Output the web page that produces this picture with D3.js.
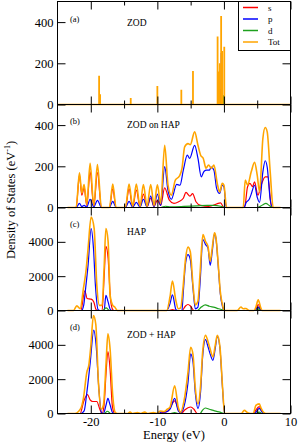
<!DOCTYPE html>
<html>
<head>
<meta charset="utf-8">
<script src="https://cdn.jsdelivr.net/npm/d3@7"></script>
<style>
  body { margin: 0; background: #fff; }
  text { font-family: 'Liberation Serif', 'Times New Roman', serif; fill: #000; }
</style>
</head>
<body>
<div id="main"></div>
<script>
// energy ticks (eV)
var energyMajorTicks = [-20, -10, 0, 10];
var energyMinorTicks = [-15, -5, 5];

var seriesNames = ['s', 'p', 'd', 'Tot'];
var panelLetters = ['(a)', '(b)', '(c)', '(d)'];
var panelTitles = ['ZOD', 'ZOD on HAP', 'HAP', 'ZOD + HAP'];
var panelMax = [500, 500, 6000, 6000];
var panelTicks = [[0, 200, 400], [0, 200, 400], [0, 2000, 4000], [0, 2000, 4000]];

// (a) ZOD : discrete levels, [energy, height]
var zodS = [[-0.45, 75], [-0.3, 50]];
var zodP = [[-0.65, 120], [-0.4, 250], [-0.1, 40]];
var zodD = [[-0.6, 25], [-0.05, 45]];
var zodTot = [[-18.75, 140], [-18.6, 50], [-14.0, 32], [-10.0, 90], [-6.4, 71], [-4.65, 163],
  [-0.95, 330], [-0.8, 160], [-0.62, 200], [-0.42, 430], [-0.27, 260], [0.05, 280]];

// (b) ZOD on HAP
var zohS = [[-23.5, 0], [-22.2, 0], [-21.7, 157], [-21.35, 60], [-21.0, 96], [-20.6, 10], [-20.1, 173], [-19.55, 5],
  [-19.0, 170], [-18.4, 0], [-17.2, 0], [-16.7, 90], [-16.2, 0], [-14.8, 0], [-14.25, 90], [-13.7, 3], [-13.16, 85],
  [-12.6, 3], [-12.1, 65], [-11.55, 3], [-11.0, 45], [-10.5, 5], [-10.0, 35], [-9.5, 10], [-8.9, 95], [-8.2, 36],
  [-7.5, 20], [-6.8, 28], [-6.1, 45], [-5.7, 73], [-5.1, 55], [-4.7, 67], [-4.2, 28], [-3.5, 10], [-2.3, 5],
  [-0.5, 22], [0.0, 0], [3.1, 0], [3.55, 101], [3.9, 117], [4.3, 101], [4.6, 125], [5.1, 60], [5.6, 109],
  [6.2, 149], [6.6, 149], [7.1, 10], [7.4, 0], [8.5, 0]];
var zohP = [[-23.5, 0], [-22.2, 0], [-21.7, 20], [-21.35, 5], [-21.0, 10], [-20.6, 3], [-20.1, 40], [-19.55, 3],
  [-19.0, 35], [-18.4, 0], [-17.2, 0], [-16.7, 30], [-16.2, 0], [-14.8, 0], [-14.25, 30], [-13.7, 2], [-13.16, 25],
  [-12.6, 2], [-12.1, 40], [-11.55, 3], [-11.0, 55], [-10.5, 5], [-10.0, 65], [-9.5, 10], [-8.9, 198], [-8.4, 82],
  [-7.9, 40], [-7.1, 112], [-6.6, 108], [-6.1, 181], [-5.5, 254], [-5.15, 238], [-4.4, 302], [-3.9, 238],
  [-3.4, 149], [-3.0, 175], [-2.6, 181], [-2.2, 181], [-1.9, 196], [-1.5, 181], [-1.1, 93], [-0.65, 68],
  [-0.25, 108], [0.0, 100], [0.35, 0], [3.0, 0], [3.35, 25], [3.8, 40], [4.1, 65], [4.6, 108], [5.0, 50],
  [5.35, 25], [5.85, 173], [6.2, 227], [6.5, 196], [6.95, 40], [7.3, 0], [8.5, 0]];
var zohD = [[-23.5, 0], [-9.5, 0], [-8.8, 6], [-8.0, 3], [-6.0, 5], [-4.0, 8], [-2.5, 10], [-1.5, 10], [-0.5, 6],
  [0.2, 0], [5.0, 0], [5.8, 12], [6.3, 20], [6.8, 10], [7.3, 0], [8.5, 0]];
var zohTot = [[-23.5, 0], [-22.2, 0], [-21.7, 168], [-21.35, 70], [-21.0, 112], [-20.6, 15], [-20.1, 214], [-19.55, 10],
  [-19.0, 209], [-18.4, 0], [-17.2, 0], [-16.7, 114], [-16.2, 0], [-14.8, 0], [-14.25, 114], [-13.7, 5],
  [-13.16, 114], [-12.6, 5], [-12.1, 112], [-11.55, 5], [-11.0, 112], [-10.5, 10], [-10.0, 110], [-9.5, 20],
  [-8.9, 302], [-8.4, 109], [-7.9, 60], [-7.3, 133], [-6.7, 152], [-6.3, 190], [-5.9, 294], [-5.4, 310],
  [-5.05, 305], [-4.4, 367], [-3.9, 302], [-3.5, 254], [-3.1, 238], [-2.7, 191], [-2.3, 206], [-1.9, 191],
  [-1.5, 206], [-1.0, 117], [-0.65, 75], [-0.25, 117], [0.0, 109], [0.4, 0], [2.9, 0], [3.2, 133], [3.55, 109],
  [4.1, 173], [4.6, 219], [5.0, 157], [5.35, 77], [5.85, 335], [6.2, 388], [6.5, 367], [6.95, 173], [7.4, 0], [8.5, 0]];

// (c) HAP
var hapS = [[-23.5, 0], [-21.5, 0], [-20.9, 1150], [-20.55, 700], [-19.95, 660], [-19.55, 500], [-19.2, 50], [-18.9, 0],
  [-18.3, 0], [-17.98, 2080], [-17.73, 3740], [-17.4, 3060], [-17.05, 700], [-16.7, 50], [-16.5, 0], [-8.3, 0],
  [-7.73, 50], [-7.2, 0], [-6.3, 0], [-5.8, 250], [-5.4, 350], [-5.0, 250], [-4.5, 0], [4.7, 0], [5.15, 350],
  [5.6, 0], [8.5, 0]];
var hapP = [[-23.5, 0], [-21.4, 0], [-21.07, 300], [-20.8, 1200], [-20.4, 2670], [-19.95, 4770], [-19.6, 3640],
  [-19.3, 1440], [-18.9, 50], [-18.6, 0], [-18.0, 0], [-17.73, 880], [-17.4, 500], [-17.05, 50], [-16.8, 0],
  [-8.6, 0], [-8.1, 400], [-7.73, 910], [-7.2, 50], [-6.9, 0], [-6.3, 0], [-6.15, 800], [-5.75, 2780],
  [-5.4, 3250], [-5.05, 2960], [-4.65, 1300], [-4.3, 100], [-3.9, 200], [-3.6, 1500], [-3.16, 4130],
  [-2.76, 3840], [-2.4, 3640], [-2.06, 2630], [-1.76, 3420], [-1.42, 4460], [-1.2, 4200], [-0.85, 2570],
  [-0.55, 1000], [-0.2, 200], [0.05, 0], [4.7, 0], [5.15, 200], [5.6, 0], [8.5, 0]];
var hapD = [[-23.5, 0], [-18.2, 0], [-17.7, 150], [-17.2, 0], [-4.0, 0], [-3.4, 200], [-2.8, 330], [-2.2, 250],
  [-1.4, 180], [-0.8, 100], [-0.2, 40], [0.2, 0], [4.8, 0], [5.15, 100], [5.5, 0], [8.5, 0]];
var hapTot = [[-23.5, 0], [-22.6, 0], [-22.1, 270], [-21.6, 100], [-21.1, 1300], [-20.7, 2375], [-20.4, 3640],
  [-19.95, 5440], [-19.5, 4800], [-19.1, 1500], [-18.7, 300], [-18.3, 300], [-18.0, 2475], [-17.73, 4770],
  [-17.4, 4040], [-17.1, 910], [-16.7, 300], [-16.4, 200], [-16.0, 0], [-8.6, 0], [-8.1, 800], [-7.73, 1720],
  [-7.24, 620], [-6.85, 100], [-6.5, 150], [-6.15, 1300], [-5.75, 3060], [-5.4, 3690], [-5.05, 3420],
  [-4.65, 1500], [-4.3, 330], [-3.9, 560], [-3.6, 2080], [-3.16, 4420], [-2.76, 4020], [-2.4, 3740],
  [-2.06, 2870], [-1.76, 3630], [-1.42, 4520], [-1.2, 4250], [-0.85, 2670], [-0.55, 1110], [-0.2, 300],
  [0.05, 0], [2.0, 0], [2.56, 200], [2.9, 100], [3.3, 120], [3.8, 0], [4.5, 0], [4.8, 200], [5.15, 620],
  [5.5, 200], [5.75, 0], [8.5, 0]];

// (d) ZOD + HAP
var zhS = [[-23.5, 0], [-21.6, 0], [-21.07, 700], [-20.5, 1100], [-20.1, 800], [-19.7, 700], [-19.1, 700], [-18.6, 200],
  [-18.3, 0], [-18.0, 500], [-17.7, 2400], [-17.43, 3600], [-17.1, 2570], [-16.75, 400], [-16.4, 0], [-9.8, 0],
  [-9.2, 60], [-8.4, 150], [-7.4, 740], [-6.8, 200], [-6.4, 0], [-5.9, 200], [-5.0, 380], [-4.5, 250], [-4.0, 0],
  [4.5, 0], [4.8, 200], [5.3, 400], [5.7, 150], [6.0, 0], [8.5, 0]];
var zhP = [[-23.5, 0], [-21.5, 0], [-21.0, 150], [-20.6, 1200], [-20.1, 2900], [-19.55, 4860], [-19.2, 3980],
  [-18.8, 1500], [-18.4, 50], [-18.1, 0], [-17.7, 500], [-17.43, 880], [-17.1, 500], [-16.7, 30], [-16.4, 0],
  [-9.8, 0], [-9.4, 100], [-8.8, 80], [-8.1, 250], [-7.4, 880], [-6.85, 150], [-6.5, 50], [-6.0, 400],
  [-5.4, 1800], [-5.0, 3470], [-4.65, 3000], [-4.3, 1200], [-3.9, 300], [-3.5, 1300], [-3.2, 3300],
  [-2.76, 4300], [-2.4, 3900], [-2.1, 3500], [-1.65, 3100], [-1.3, 3800], [-1.0, 4500], [-0.6, 3800],
  [-0.2, 1400], [0.1, 0], [4.6, 0], [5.3, 300], [5.7, 100], [6.0, 0], [8.5, 0]];
var zhD = [[-23.5, 0], [-18.0, 0], [-17.5, 130], [-17.0, 0], [-8.0, 0], [-7.4, 50], [-6.9, 0], [-3.6, 0], [-3.2, 200],
  [-2.8, 320], [-2.2, 250], [-1.4, 150], [-0.6, 80], [0.1, 0], [4.8, 0], [5.3, 80], [5.7, 0], [8.5, 0]];
var zhTot = [[-23.5, 0], [-22.4, 0], [-21.5, 300], [-21.1, 900], [-20.6, 2400], [-20.3, 2800], [-20.0, 3900],
  [-19.6, 5700], [-19.25, 5200], [-18.85, 1800], [-18.45, 250], [-18.1, 500], [-17.7, 2980], [-17.43, 4640],
  [-17.1, 3760], [-16.7, 1035], [-16.3, 50], [-16.0, 0], [-14.5, 0], [-14.1, 80], [-13.7, 0], [-13.0, 60],
  [-12.5, 0], [-11.9, 80], [-11.4, 0], [-10.6, 60], [-10.0, 0], [-9.6, 150], [-9.0, 120], [-8.5, 250],
  [-8.1, 370], [-7.4, 1620], [-6.85, 350], [-6.5, 80], [-6.0, 720], [-5.4, 2400], [-5.0, 3860], [-4.65, 3450],
  [-4.3, 1500], [-3.9, 560], [-3.5, 1650], [-3.2, 3570], [-2.76, 4560], [-2.4, 4200], [-2.1, 3800],
  [-1.65, 3300], [-1.3, 3980], [-1.0, 4560], [-0.6, 3900], [-0.2, 1500], [0.1, 0], [2.6, 0], [3.06, 180],
  [3.55, 50], [4.0, 0], [4.4, 0], [4.8, 470], [5.3, 560], [5.6, 300], [6.0, 50], [6.3, 0], [8.5, 0]];

var panelSeries = [
  [zodS, zodP, zodD, zodTot],
  [zohS, zohP, zohD, zohTot],
  [hapS, hapP, hapD, hapTot],
  [zhS, zhP, zhD, zhTot]
];

// layout
var svgWidth = 298;
var svgHeight = 445;
var plotLeft = 57.5;
var plotRight = 290.5;
var firstTop = 1.5;
var panelHeight = 103;

var colors = { s: '#ff0000', p: '#0000ff', d: '#1ea01e', Tot: '#ffa500' };
var widths = { s: 1.2, p: 1.2, d: 1.2, Tot: 1.6 };

var svg = d3.select('#main')
  .append('svg')
  .attr('width', svgWidth)
  .attr('height', svgHeight);

var xScale = d3.scaleLinear()
  .domain([-25, 10])
  .range([plotLeft, plotRight]);

svg.append('clipPath')
  .attr('id', 'plot-clip')
  .append('rect')
  .attr('x', plotLeft)
  .attr('y', firstTop)
  .attr('width', plotRight - plotLeft)
  .attr('height', panelHeight * 4);

panelSeries.forEach(function (series, i) {
  var top = firstTop + i * panelHeight;
  var bottom = top + panelHeight;

  var yScale = d3.scaleLinear()
    .domain([0, panelMax[i]])
    .range([bottom, top]);

  var lineGen = d3.line()
    .x((d) => xScale(d[0]))
    .y((d) => yScale(d[1]))
    .curve(d3.curveMonotoneX);

  var plotG = svg.append('g').attr('clip-path', 'url(#plot-clip)');

  if (i === 0) {
    // zero line of the total, then vertical level lines
    plotG.append('path')
      .attr('d', lineGen([[-25, 0], [10, 0]]))
      .attr('fill', 'none')
      .attr('stroke', colors.Tot)
      .attr('stroke-width', widths.Tot);

    series.forEach(function (levels, k) {
      var name = seriesNames[k];
      plotG.selectAll('.spike-' + name)
        .data(levels)
        .enter()
        .append('path')
        .attr('class', 'spike-' + name)
        .attr('d', (d) => d3.line()([[xScale(d[0]), yScale(0)], [xScale(d[0]), yScale(d[1])]]))
        .attr('stroke', colors[name])
        .attr('stroke-width', name == 'Tot' ? 1.8 : 1.2);
    });
  } else {
    series.forEach(function (points, k) {
      var name = seriesNames[k];
      plotG.append('path')
        .attr('class', 'dos-' + name)
        .attr('d', lineGen(points))
        .attr('fill', 'none')
        .attr('stroke', colors[name])
        .attr('stroke-width', widths[name])
        .attr('stroke-linejoin', 'round');
    });
  }

  // ticks pointing inward on all four sides
  var last = i === panelSeries.length - 1;

  svg.append('g')
    .attr('transform', 'translate(0,' + bottom + ')')
    .call(d3.axisBottom(xScale).tickValues(energyMajorTicks).tickSize(-8).tickPadding(4)
      .tickFormat((d) => last ? String(d) : ''));
  svg.append('g')
    .attr('transform', 'translate(0,' + bottom + ')')
    .call(d3.axisBottom(xScale).tickValues(energyMinorTicks).tickSize(-4).tickFormat(''));
  svg.append('g')
    .attr('transform', 'translate(0,' + top + ')')
    .call(d3.axisTop(xScale).tickValues(energyMajorTicks).tickSize(-8).tickFormat(''));
  svg.append('g')
    .attr('transform', 'translate(0,' + top + ')')
    .call(d3.axisTop(xScale).tickValues(energyMinorTicks).tickSize(-4).tickFormat(''));

  svg.append('g')
    .attr('transform', 'translate(' + plotLeft + ',0)')
    .call(d3.axisLeft(yScale).tickValues(panelTicks[i]).tickSize(-8).tickPadding(4).tickFormat((d) => String(d)));
  svg.append('g')
    .attr('transform', 'translate(' + plotRight + ',0)')
    .call(d3.axisRight(yScale).tickValues(panelTicks[i]).tickSize(-8).tickFormat(''));

  // frame
  svg.append('rect')
    .attr('x', plotLeft)
    .attr('y', top)
    .attr('width', plotRight - plotLeft)
    .attr('height', panelHeight)
    .attr('fill', 'none')
    .attr('stroke', '#000')
    .attr('stroke-width', 1);

  // panel labels
  svg.append('text')
    .attr('x', 70)
    .attr('y', top + (i === 0 ? 20 : 19))
    .style('font-size', '8.5px')
    .text(panelLetters[i]);

  svg.append('text')
    .attr('x', 127)
    .attr('y', top + (i === 0 ? 24.5 : i === 1 ? 23 : 27.5))
    .style('font-size', '9.5px')
    .text(panelTitles[i]);
});

svg.selectAll('.domain').remove();
svg.selectAll('.tick line').attr('stroke', '#000');
svg.selectAll('.tick text')
  .style('font-family', "'Liberation Serif', serif")
  .style('font-size', '12.5px')
  .attr('fill', '#000');

// legend in panel (a)
var legendG = svg.append('g');

legendG.append('rect')
  .attr('x', 238.5)
  .attr('y', firstTop)
  .attr('width', plotRight - 238.5)
  .attr('height', 49)
  .attr('fill', '#fff')
  .attr('stroke', '#000')
  .attr('stroke-width', 1);

seriesNames.forEach(function (name, k) {
  var ly = 7.5 + k * 11.5;
  legendG.append('path')
    .attr('d', d3.line()([[243, ly], [258, ly]]))
    .attr('stroke', colors[name])
    .attr('stroke-width', 1.5);
  legendG.append('text')
    .attr('x', 268)
    .attr('y', ly + 3)
    .style('font-size', '9px')
    .text(name);
});

// axis titles
svg.append('text')
  .attr('x', 174)
  .attr('y', 439)
  .attr('text-anchor', 'middle')
  .style('font-size', '12.5px')
  .text('Energy (eV)');

var yTitle = svg.append('text')
  .attr('transform', 'translate(15,200) rotate(-90)')
  .attr('text-anchor', 'middle')
  .style('font-size', '12.5px');
yTitle.append('tspan').text('Density of States (eV');
yTitle.append('tspan').attr('dy', -5).style('font-size', '8px').text('-1');
yTitle.append('tspan').attr('dy', 5).text(')');
</script>
</body>
</html>
